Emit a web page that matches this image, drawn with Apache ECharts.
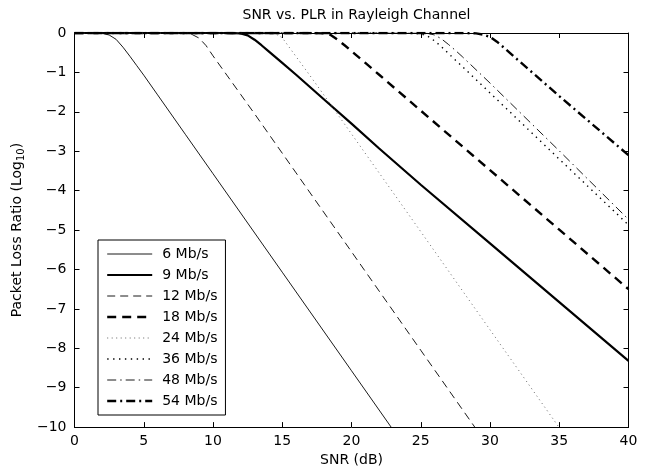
<!DOCTYPE html>
<html>
<head>
<meta charset="utf-8">
<script src="https://cdn.jsdelivr.net/npm/echarts@6/dist/echarts.min.js"></script>
<style>html,body{margin:0;padding:0;background:#fff;}#c{width:645px;height:472px;}</style>
</head>
<body>
<div id="c"></div>
<script>
const seriesNames = ['6 Mb/s','9 Mb/s','12 Mb/s','18 Mb/s','24 Mb/s','36 Mb/s','48 Mb/s','54 Mb/s'];
const plr6  = [[0,0],[1,0],[2,-0.01],[2.5,-0.05],[3,-0.16],[3.5,-0.36],[4,-0.59],[4.5,-0.83],[5,-1.07],[6,-1.57],[8,-2.57],[10,-3.57],[15,-6.07],[20,-8.57],[22.86,-10]];
const plr9  = [[0,0],[11,0],[12,-0.01],[12.5,-0.06],[13,-0.17],[13.5,-0.31],[14,-0.46],[15,-0.76],[16,-1.06],[18,-1.68],[20,-2.3],[22,-2.93],[25,-3.85],[30,-5.34],[35,-6.83],[40,-8.32]];
const plr12 = [[0,0],[7,0],[8,-0.01],[8.5,-0.04],[9,-0.13],[9.5,-0.32],[10,-0.58],[11,-1.07],[12,-1.56],[13,-2.05],[14,-2.55],[16,-3.55],[20,-5.55],[25,-8.05],[28.9,-10]];
const plr18 = [[0,0],[17,0],[18,-0.01],[18.5,-0.05],[19,-0.17],[19.5,-0.31],[20,-0.46],[21,-0.76],[22,-1.06],[25,-1.97],[30,-3.48],[35,-4.99],[40,-6.5]];
const plr24 = [[0,0],[14,0],[14.5,-0.02],[15,-0.12],[15.5,-0.36],[16,-0.6],[17,-1.08],[18,-1.57],[20,-2.56],[25,-5.04],[30,-7.53],[34.97,-10]];
const plr36 = [[0,0],[24,0],[25,-0.02],[25.5,-0.08],[26,-0.2],[26.5,-0.35],[27,-0.52],[28,-0.85],[30,-1.52],[35,-3.2],[40,-4.87]];
const plr48 = [[0,0],[25,0],[25.5,-0.01],[26,-0.05],[26.5,-0.15],[27,-0.29],[27.5,-0.44],[28,-0.6],[30,-1.27],[35,-2.99],[40,-4.73]];
const plr54 = [[0,0],[28,0],[29,-0.01],[29.5,-0.04],[30,-0.1],[30.5,-0.22],[31,-0.37],[32,-0.68],[35,-1.6],[40,-3.1]];
const allData = [plr6, plr9, plr12, plr18, plr24, plr36, plr48, plr54];

const styles = [
  {width:0.9, type:'solid'},
  {width:2.2, type:'solid'},
  {width:0.9, type:[8,5]},
  {width:2.4, type:[9,6]},
  {width:0.9, type:[1,3.5], color:'#555'},
  {width:1.4, type:[1.4,4.5]},
  {width:0.9, type:[9,4,1.5,4]},
  {width:2.4, type:[9,4,2,4]}
];

const FONT = 'DejaVu Sans';
const chart = echarts.init(document.getElementById('c'), null, {renderer:'canvas'});
const minusFmt = v => (v < 0 ? '\u2212' + (-v) : String(v));

function axisBase() {
  return {
    axisLine:{show:true, onZero:false, lineStyle:{color:'#000', width:1}},
    axisTick:{show:true, inside:true, length:5, lineStyle:{color:'#000', width:1}},
    splitLine:{show:false}
  };
}

chart.setOption({
  animation:false,
  backgroundColor:'#fff',
  title:{
    text:'SNR vs. PLR in Rayleigh Channel',
    left:351.5, top:3, textAlign:'center',
    textStyle:{fontFamily:FONT, fontSize:14, fontWeight:'normal', color:'#000'}
  },
  grid:{left:74.5, right:16.5, top:33, bottom:41, containLabel:false},
  legend:{
    show:true,
    orient:'vertical', left:98, top:240,
    backgroundColor:'#fff', borderColor:'#000', borderWidth:1,
    padding:[7,8,7,8], itemGap:7, itemWidth:45, itemHeight:14,
    itemStyle:{opacity:0},
    textStyle:{fontFamily:FONT, fontSize:14, color:'#000', padding:[0,0,0,5]},
    data: seriesNames.map((n, i) => ({
      name:n,
      lineStyle:{color: styles[i].color || '#000', width: styles[i].width, type: styles[i].type}
    }))
  },
  xAxis:[
    Object.assign(axisBase(), {
      type:'value', min:0, max:40, interval:5, position:'bottom',
      name:'SNR (dB)', nameLocation:'middle', nameGap:24,
      nameTextStyle:{fontFamily:FONT, fontSize:14, color:'#000'},
      axisLabel:{fontFamily:FONT, fontSize:14, color:'#000', margin:7}
    }),
    Object.assign(axisBase(), {
      type:'value', min:0, max:40, interval:5, position:'top',
      axisLabel:{show:false}
    })
  ],
  yAxis:[
    Object.assign(axisBase(), {
      type:'value', min:-10, max:0, interval:1, position:'left',
      name:'Packet Loss Ratio (Log{sub|10})', nameLocation:'middle', nameGap:31,
      nameTextStyle:{fontFamily:FONT, fontSize:14, color:'#000',
        rich:{sub:{fontFamily:FONT, fontSize:10, color:'#000', padding:[8,0,0,0]}}},
      axisLabel:{fontFamily:FONT, fontSize:14, color:'#000', margin:8, formatter:minusFmt}
    }),
    Object.assign(axisBase(), {
      type:'value', min:-10, max:0, interval:1, position:'right',
      axisLabel:{show:false}
    })
  ],
  series: allData.map((d, i) => ({
    name: seriesNames[i],
    type:'line',
    data: d,
    xAxisIndex:0, yAxisIndex:0,
    showSymbol:false, symbol:'none',
    smooth:false,
    clip:true,
    lineStyle:{color: styles[i].color || '#000', width:styles[i].width, type:styles[i].type},
    itemStyle:{color: styles[i].color || '#000'},
    z: 2
  }))
});
</script>
</body>
</html>
